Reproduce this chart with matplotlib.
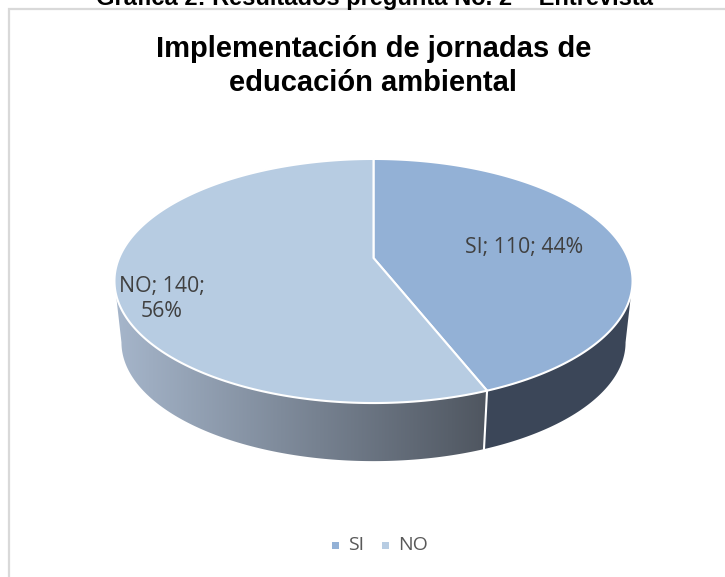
"""Gráfica 2: pie with fake 3D depth, Excel style."""
import numpy as np
import matplotlib
matplotlib.use("Agg")
import matplotlib.pyplot as plt
from matplotlib.colors import LinearSegmentedColormap
from matplotlib.patches import Polygon, Rectangle

categories = ["SI", "NO"]
values = [110, 140]
percents = [44, 56]
top_colors = ["#93b1d6", "#b7cce2"]
side_dark = "#3b4658"
side_gradient = ["#a6b6cb", "#4f5660"]

W, H = 725, 577
CX, CY = 373.5, 258       # where the slices meet on the top face
A, B, K = 254.4, 117.7, 0.1885   # perspective disc
DEPTH_Y, DEPTH_S = 62, 0.973


def project(theta, r=1.0, lower=False):
    """theta clockwise from 12 o'clock, radians -> pixel coords."""
    u, v = r * np.sin(theta), -r * np.cos(theta)
    d = 1 - K * v
    s = DEPTH_S if lower else 1.0
    y0 = CY + (DEPTH_Y if lower else 0)
    return CX + s * A * u / d, y0 + s * B * v / d


def arc(t0, t1, lower=False, n=200):
    t = np.linspace(t0, t1, n)
    return np.column_stack(project(t, lower=lower))


plt.rcParams["font.family"] = ["Open Sans", "DejaVu Sans"]
fig = plt.figure(figsize=(W / 100, H / 100), dpi=100)
ax = fig.add_axes([0, 0, 1, 1])
ax.set_xlim(0, W)
ax.set_ylim(H, 0)
ax.axis("off")

ax.add_patch(Rectangle((9.5, 9), W, H, fc="white", ec="#d9d9d9", lw=1.6))
ax.text(375, 5, "Gráfica 2: Resultados pregunta No. 2 – Entrevista",
        family="Liberation Sans", weight="bold", fontsize=17, ha="center",
        va="baseline", color="black")
ax.text(373.5, 66, "Implementación de jornadas de\neducación ambiental",
        family="Liberation Sans", weight="bold", fontsize=21, ha="center",
        va="center", linespacing=1.28, color="black")

# slice angles, clockwise from the top
edges = 2 * np.pi * np.cumsum([0] + values) / sum(values)
seam = edges[1]

# side wall runs between the points where the discs are widest on screen
right = np.arccos(-K)
left = 2 * np.pi - right
rim_si = np.vstack([arc(right, seam), arc(right, seam, lower=True)[::-1]])
ax.add_patch(Polygon(rim_si, fc=side_dark, ec="none", zorder=2))

rim_no = np.vstack([arc(seam, left), arc(seam, left, lower=True)[::-1]])
clip = Polygon(rim_no, fc="none", ec="none", transform=ax.transData)
ax.add_patch(clip)
cmap = LinearSegmentedColormap.from_list("rim", side_gradient)
x0, x1 = rim_no[:, 0].min(), rim_no[:, 0].max()
img = ax.imshow(np.linspace(0, 1, 256)[None, :], cmap=cmap, aspect="auto",
                extent=[x0, x1, H, 0], zorder=2)
img.set_clip_path(clip)
ax.set_xlim(0, W)
ax.set_ylim(H, 0)

# top face
for t0, t1, c in zip(edges[:-1], edges[1:], top_colors):
    pts = np.vstack([[CX, CY], arc(t0, t1)])
    ax.add_patch(Polygon(pts, fc=c, ec="white", lw=1.5, joinstyle="round", zorder=3))

# seam on the side wall
sx, sy = project(seam)
bx, by = project(seam, lower=True)
ax.plot([sx, bx], [sy, by], color="white", lw=1.5, zorder=4)

txt = "#404040"
ax.text(524, 247, f"{categories[0]}; {values[0]}; {percents[0]}%", fontsize=15.3,
        color=txt, ha="center", va="center", zorder=5)
ax.text(162, 299, f"{categories[1]}; {values[1]};\n{percents[1]}%", fontsize=15.3,
        color=txt, ha="center", va="center", linespacing=1.29, zorder=5)

# legend
for x, name, c in zip([332, 382], categories, top_colors):
    ax.add_patch(Rectangle((x, 542), 7, 7, fc=c, ec="none"))
    ax.text(x + 16, 545, name, fontsize=14, color="#595959", va="center", ha="left")

fig.savefig("out.png", dpi=100)
